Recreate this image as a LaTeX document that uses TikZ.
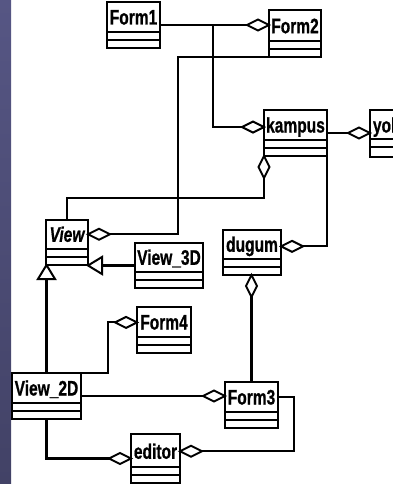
\documentclass[tikz,border=0pt]{standalone}
\usepackage{fontspec}
\setmainfont{Liberation Sans}[FakeBold=0.9]
\usetikzlibrary{calc}
\definecolor{stripetop}{RGB}{86,86,132}
\definecolor{stripebot}{RGB}{66,66,102}
\tikzset{
 clsbox/.style={draw, rectangle, inner sep=0pt, outer sep=0pt, fill=white},
 clstext/.style={inner sep=0pt, font=\fontsize{21}{21}\selectfont\bfseries},
 sepline/.style={draw},
 conn/.style={draw, line width=2.2pt, line join=miter},
 tipshape/.style={draw, fill=white, line width=2pt, line join=miter},
}
\newcommand\umlcls[6]{%
  \node[clsbox, anchor=north west, minimum width=#4pt, minimum height={(#5+16)*1pt}] (#1) at (#2,#3) {};
  \node[clstext, anchor=base] (#1-t) at ({#2+#4/2},{#3+#5*0.75}) {\scalebox{0.74}[1]{#6}};
  \draw[sepline] ([yshift=-#5pt]#1.north west) -- ([yshift=-#5pt]#1.north east);
  \draw[sepline] ([yshift={-#5pt-8pt}]#1.north west) -- ([yshift={-#5pt-8pt}]#1.north east);
}
\newcommand\aggtip[2]{%
  \begin{scope}[shift={(#1)},rotate=#2]
    \draw[tipshape] (0,0) -- (-11,5.5) -- (-22,0) -- (-11,-5.5) -- cycle;
  \end{scope}}
\newcommand\gentip[2]{%
  \begin{scope}[shift={(#1)},rotate=#2]
    \draw[tipshape] (0,0) -- (-14,8.5) -- (-14,-8.5) -- cycle;
  \end{scope}}
\begin{document}
\begin{tikzpicture}[x=1pt,y=-1pt,line width=1.9pt]
\useasboundingbox (0,0) rectangle (393,484);
\clip (0,0) rectangle (393,484);
\shade[top color=stripetop,bottom color=stripebot] (0,0) rectangle (11,484);

\umlcls{form1}{107}{2}{53}{30}{Form1}
\umlcls{form2}{269}{10}{52}{31}{Form2}
\umlcls{kampus}{264}{110}{63}{30}{kampus}
\umlcls{view}{46}{220}{42}{29}{\itshape View}
\umlcls{view3d}{135}{243}{68}{29}{View\_3D}
\umlcls{dugum}{223}{230}{58}{29}{dugum}
\umlcls{form4}{137}{307}{54}{30}{Form4}
\umlcls{view2d}{12}{373}{69}{30}{View\_2D}
\umlcls{form3}{225}{382}{53}{30}{Form3}
\umlcls{editor}{131}{434}{49}{33}{editor}

\node[clsbox, anchor=north west, minimum width=60pt, minimum height=47pt] (yol) at (370,110) {};
\node[clstext, anchor=base west] (yol-t) at (372,132.5) {\scalebox{0.74}[1]{yol}};
\draw[sepline] ([yshift=-29pt]yol.north west) -- ([yshift=-29pt]yol.north east);
\draw[sepline] ([yshift=-37pt]yol.north west) -- ([yshift=-37pt]yol.north east);

\coordinate (j1) at ([xshift=53pt]form1.east);
\coordinate (t1) at (form1.east -| form2.west);
\coordinate (t2) at (kampus-t -| kampus.west);
\coordinate (t3) at (view-t -| view.east);
\coordinate (t4) at (kampus.south west);
\coordinate (t5) at (dugum-t -| dugum.east);
\coordinate (t6) at (kampus.east -| yol.west);
\coordinate (t7) at (form3.north |- dugum.south);
\coordinate (g1) at (view3d.west -| view.east);
\coordinate (g2) at (view2d.north |- view.south);
\coordinate (t8) at (form4-t -| form4.west);
\coordinate (t9) at (view2d.east -| form3.west);
\coordinate (t10) at (editor.west);
\coordinate (t11) at (editor-t -| editor.east);

\draw[conn] (form1.east) -- (t1);
\draw[conn] (j1) |- (t2);
\draw[conn] (form2.south west) -- ++(-91,0) |- (t3);
\draw[conn] (view.north) -- ++(0,-22) -| (t4);
\draw[conn] (kampus.south east) |- (t5);
\draw[conn] (kampus.east) -- (t6);
\draw[conn] (form3.north) -- (t7);
\draw[conn] (view3d.west) -- (g1);
\draw[conn] (view2d.north) -- (g2);
\draw[conn] (view2d.north east) -- ++(27,0) |- (t8);
\draw[conn] (view2d.east) -- (t9);
\draw[conn] (view2d.south) |- (t10);
\draw[conn] (form3-t -| form3.east) -- ++(16,0) |- (t11);

\aggtip{t1}{0}
\aggtip{t2}{0}
\aggtip{t3}{180}
\aggtip{t4}{90}
\aggtip{t5}{180}
\aggtip{t6}{0}
\aggtip{t7}{90}
\aggtip{t8}{0}
\aggtip{t9}{0}
\aggtip{t10}{0}
\aggtip{t11}{180}
\gentip{g1}{180}
\gentip{g2}{90}
\end{tikzpicture}
\end{document}
